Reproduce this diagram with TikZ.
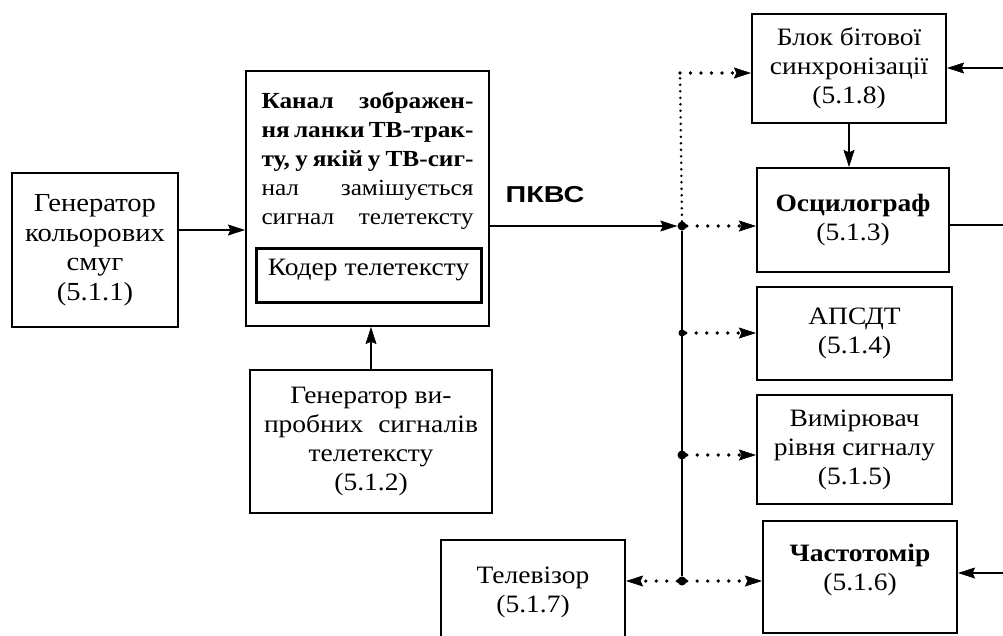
\documentclass[tikz,border=0pt]{standalone}
\usepackage{fontspec}
\setmainfont{Liberation Serif}[FakeStretch=1.1]
\newfontfamily\pkvsfont{Liberation Sans}[FakeStretch=1.25]
\usetikzlibrary{arrows.meta}
\begin{document}
\begin{tikzpicture}[x=1pt,y=-1pt,
  box/.style={draw,line width=2.2pt,inner sep=0pt,align=center,
    font=\fontsize{25}{29}\selectfont},
  txt/.style={inner sep=0pt,align=center,font=\fontsize{25}{29}\selectfont},
  tipS/.style={-{Stealth[length=17pt,width=11pt,inset=2.5pt,line width=0.6pt]}},
  conn/.style={line width=1.5pt},
  arr/.style={conn,tipS},
  dotarr/.style={line width=3.6pt,line cap=round,dash pattern=on 0pt off 10.5pt,tipS},
  vdots/.style={line width=2.8pt,line cap=round,dash pattern=on 0pt off 6.5pt},
  jdot/.style={circle,fill,inner sep=0pt,minimum size=9pt}
]
\useasboundingbox (0,0) rectangle (1003,635);
\clip (0,0) rectangle (1003,635);

% boxes
\node[box,minimum width=166pt,minimum height=154pt,font=\fontsize{26}{29.5}\selectfont] (gen1) at (95,250)
  {Генератор\\кольорових\\смуг\\(5.1.1)};
\node[box,minimum width=243pt,minimum height=255pt] (chan) at (367.5,198.5) {};
\node[txt,anchor=north,font=\fontsize{23}{29}\selectfont] (chant) at (367.5,92)
  {\bfseries\makebox[212pt][s]{Канал зображен-}\\
   \bfseries\makebox[212pt][s]{ня ланки ТВ-трак-}\\
   \bfseries\makebox[212pt][s]{ту, у якій у ТВ-сиг-}\\
   \makebox[212pt][s]{нал замішується}\\
   \makebox[212pt][s]{сигнал телетексту}};
\node[box,line width=3pt,minimum width=225pt,minimum height=54pt] (kod) at (368.5,275) {};
\node[txt] (kodt) at (368.5,270) {Кодер телетексту};
\node[box,minimum width=242pt,minimum height=143pt] (gen2) at (371,441.5)
  {Генератор ви-\\\makebox[214pt][s]{пробних сигналів}\\телетексту\\(5.1.2)};
\node[box,minimum width=184pt,minimum height=104pt] (tv) at (533,592)
  {Телевізор\\(5.1.7)};
\node[box,minimum width=194pt,minimum height=109pt] (blok) at (849,68.5)
  {Блок бітової\\синхронізації\\(5.1.8)};
\node[box,minimum width=192pt,minimum height=104pt] (osc) at (853,220)
  {\textbf{Осцилограф}\\(5.1.3)};
\node[box,minimum width=195pt,minimum height=93pt] (apsdt) at (854.5,333.5)
  {АПСДТ\\(5.1.4)};
\node[box,minimum width=195pt,minimum height=109pt] (vym) at (854.5,449.5)
  {Вимірювач\\рівня сигналу\\(5.1.5)};
\node[box,minimum width=194pt,minimum height=112pt] (freq) at (860,577) {};
\node[txt] (freqt) at (860,570) {\textbf{Частотомір}\\(5.1.6)};

\node[inner sep=0pt,font=\fontsize{23}{25}\pkvsfont\bfseries] (pkvs) at (545,195) {ПКВС};

% junctions
\node[jdot] (j1) at (682,226) {};
\node[jdot,minimum size=7pt] (j2) at (682,333) {};
\node[jdot] (j3) at (682,455) {};
\node[jdot] (j4) at (682,581) {};
\coordinate (c1) at (680,73);
\coordinate (a1) at (0,230);
\coordinate (r1) at (1003,68);
\coordinate (r2) at (1003,225);
\coordinate (r3) at (1003,573);

% connectors
\draw[arr] (gen1.east|-a1) -- (chan.west|-a1);
\draw[arr] (gen2.north) -- (gen2.north|-chan.south);
\draw[arr] (chan.east|-j1) -- (j1.west);
\draw[conn] (j1) -- (j4);
\draw[vdots] (j1.north) -- (c1);
\draw[dotarr] (c1) -- (blok.west|-c1);
\draw[dotarr] (j1.east) -- (osc.west|-j1);
\draw[dotarr] (j2.east) -- (apsdt.west|-j2);
\draw[dotarr] (j3.east) -- (vym.west|-j3);
\draw[dotarr] (j4.east) -- (freq.west|-j4);
\draw[dotarr] (j4.west) -- (tv.east|-j4);
\draw[arr] (blok.south) -- (blok.south|-osc.north);
\draw[arr] (r1) -- (blok.east|-r1);
\draw[conn] (osc.east|-r2) -- (r2);
\draw[arr] (r3) -- (freq.east|-r3);
\end{tikzpicture}
\end{document}
